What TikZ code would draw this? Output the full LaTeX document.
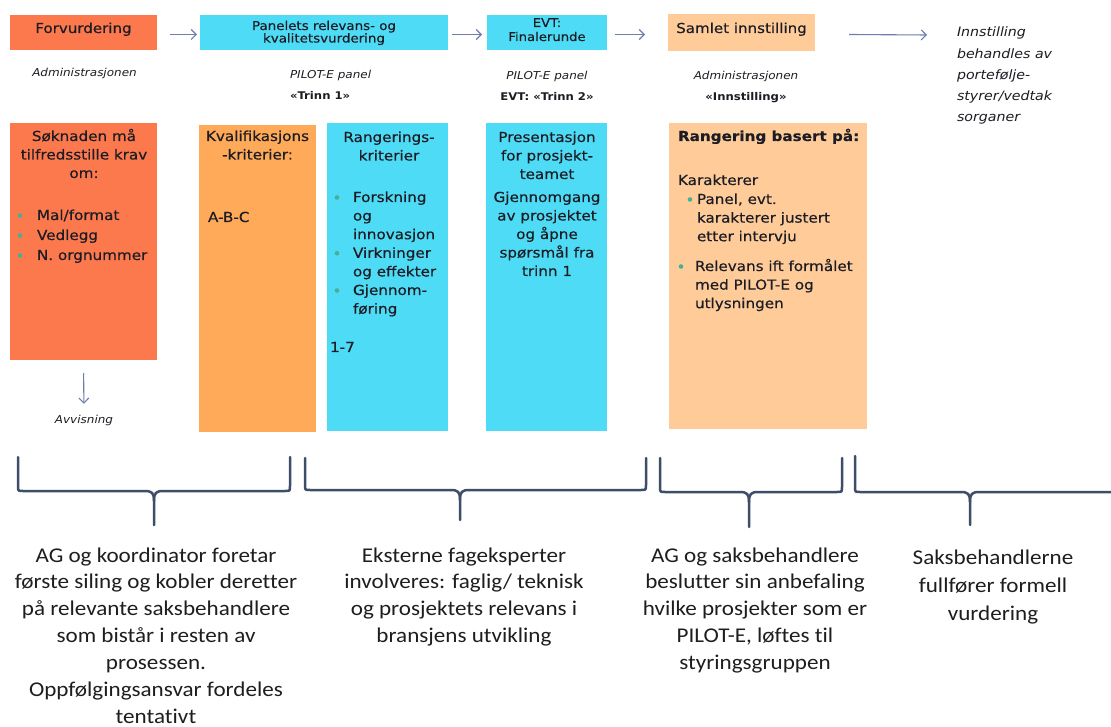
\documentclass[tikz,border=0pt]{standalone}
\usepackage{fontspec}
\setmainfont{DejaVu Sans}[FakeStretch=1.1]
\newfontfamily\boxfont{DejaVu Sans}[FakeStretch=1.1,FakeBold=0.4]
\newfontfamily\calfont{Carlito}[FakeStretch=1.1,Ligatures=NoCommon]
\usetikzlibrary{arrows.meta}
\definecolor{coral}{RGB}{252,121,78}
\definecolor{orangeB}{RGB}{255,170,88}
\definecolor{cyanB}{RGB}{78,219,245}
\definecolor{peach}{RGB}{255,204,153}
\definecolor{ink}{RGB}{28,28,36}
\definecolor{calink}{RGB}{30,30,30}
\definecolor{arrcol}{RGB}{110,125,175}
\definecolor{bracecol}{RGB}{62,78,105}
\definecolor{bulcol}{RGB}{70,175,150}
\newcommand\fsz[2]{\fontsize{#1}{#2}\selectfont}
\newcommand\brk[6]{%
  \draw[brace] (#1,#4) -- (#1,{#5-5}) .. controls (#1,#5) .. ({#1+5},#5) -- ({#3-9},#5)
     .. controls ({#3-2},#5) and (#3,{#5+2}) .. (#3,{#5+10}) -- (#3,#6);
  \draw[brace] (#2,#4) -- (#2,{#5-5}) .. controls (#2,#5) .. ({#2-5},#5) -- ({#3+9},#5)
     .. controls ({#3+2},#5) and (#3,{#5+2}) .. (#3,{#5+10});
}
\tikzset{
  box/.style={rectangle, inner sep=0pt, outer sep=0pt, draw=none, anchor=north west},
  txt/.style={inner sep=0pt, outer sep=0pt, text=ink, anchor=base},
  txtl/.style={txt, anchor=base west},
  btxt/.style={txt, font=\boxfont\fsz{13.8}{16}},
  btxtl/.style={btxt, anchor=base west},
  sub/.style={txt, font=\fsz{10.9}{12}\itshape},
  subb/.style={txt, font=\fsz{10.6}{12}\bfseries},
  arr/.style={draw=arrcol, line width=1.1pt, -{Straight Barb[length=5pt,width=10pt]}},
  brace/.style={draw=bracecol, line width=2.5pt, line cap=round, line join=round},
  cal/.style={inner sep=0pt, outer sep=0pt, text=calink, anchor=base, font=\calfont\fsz{21}{25}},
}
\begin{document}
\begin{tikzpicture}[x=1pt,y=-1pt]
\fill[white] (0,0) rectangle (1111,727);
\useasboundingbox (0,0) rectangle (1111,727);

% ---- top row boxes
\node[box, fill=coral, minimum width=147pt, minimum height=35pt] (fv) at (10,15) {};
\node[box, fill=cyanB, minimum width=248pt, minimum height=35pt] (pr) at (200,15) {};
\node[box, fill=cyanB, minimum width=120pt, minimum height=35pt] (evt) at (487,15) {};
\node[box, fill=peach, minimum width=147pt, minimum height=37pt] (si) at (668,14) {};

\node[txt, font=\boxfont\fsz{13.7}{16}] (fvt) at (83.5,33) {Forvurdering};
\node[txt, font=\boxfont\fsz{12.2}{14}] (prt1) at (324,30) {Panelets relevans- og};
\node[txt, font=\boxfont\fsz{12.2}{14}] (prt2) at (324,42.5) {kvalitetsvurdering};
\node[txt, font=\boxfont\fsz{12}{14}] (evt1) at (547,27) {EVT:};
\node[txt, font=\boxfont\fsz{12}{14}] (evt2) at (547,41) {Finalerunde};
\node[txt, font=\boxfont\fsz{13.7}{16}] (sit) at (741.5,33) {Samlet innstilling};

\coordinate (a4) at (927,35);
\draw[arr] ([xshift=13pt,yshift=-2pt]fv.east) -- ([xshift=-3pt,yshift=-2pt]pr.west);
\draw[arr] ([xshift=4pt,yshift=-2pt]pr.east) -- ([xshift=-5pt,yshift=-2pt]evt.west);
\draw[arr] ([xshift=8pt,yshift=-2pt]evt.east) -- ([xshift=-23pt,yshift=-2pt]si.west);
\draw[arr] ([xshift=34pt,yshift=-2pt]si.east) -- (a4);

\foreach \t [count=\i from 0] in {Innstilling,behandles av,portefølje-,styrer/vedtak,sorganer}
  \node[txtl, font=\fsz{12.9}{15}\itshape] (inn\i) at (957,{37+21.2*\i}) {\t};

% ---- sub labels
\node[sub] (adm1) at (84.5,77) {Administrasjonen};
\node[sub, anchor=base west] (pil1) at (290,79) {PILOT-E panel};
\node[subb, anchor=base west] (tr1) at (290,100) {«Trinn 1»};
\node[sub] (pil2) at (547,80) {PILOT-E panel};
\node[subb] (tr2) at (547,101) {EVT: «Trinn 2»};
\node[sub] (adm2) at (746,80) {Administrasjonen};
\node[subb] (inst) at (746,101) {«Innstilling»};

% ---- big boxes
\node[box, fill=coral, minimum width=147pt, minimum height=237pt] (sa) at (10,123) {};
\node[box, fill=orangeB, minimum width=117pt, minimum height=307pt] (kv) at (199,125) {};
\node[box, fill=cyanB, minimum width=121pt, minimum height=308pt] (rk) at (327,123) {};
\node[box, fill=cyanB, minimum width=121pt, minimum height=308pt] (ps) at (486,123) {};
\node[box, fill=peach, minimum width=198pt, minimum height=306pt] (rb) at (669,123) {};

% box A
\foreach \t [count=\i from 0] in {Søknaden må,tilfredsstille krav,om:}
  \node[btxt] (sah\i) at (84,{141+18.5*\i}) {\t};
\foreach \t [count=\i from 0] in {Mal/format,Vedlegg,N. orgnummer}{
  \node[btxtl] (sab\i) at (37,{220+20*\i}) {\t};
  \fill[bulcol] (20,{215.5+20*\i}) circle (2.3pt);
}
% box B
\node[btxt] (kv1) at (257.5,141) {Kvalifikasjons};
\node[btxt] (kv2) at (257.5,159.5) {-kriterier:};
\node[btxtl] (abc) at (208,222) {A-B-C};
% box C
\node[btxt] (rk1) at (389,142) {Rangerings-};
\node[btxt] (rk2) at (389,160.5) {kriterier};
\foreach \t [count=\i from 0] in {Forskning,og,innovasjon,Virkninger,og effekter,Gjennom-,føring}
  \node[btxtl] (rkb\i) at (353,{202+18.6*\i}) {\t};
\foreach \y in {202,257.8,295}
  \fill[bulcol] (337,{\y-4.5}) circle (2.3pt);
\node[btxtl] (r17) at (330,352) {1-7};
% box D
\foreach \t [count=\i from 0] in {Presentasjon,for prosjekt-,teamet}
  \node[btxt] (psa\i) at (547,{142+18.5*\i}) {\t};
\foreach \t [count=\i from 0] in {Gjennomgang,av prosjektet,og åpne,spørsmål fra,trinn 1}
  \node[btxt] (psb\i) at (547,{202+18.5*\i}) {\t};
% box E
\node[btxtl, font=\boxfont\fsz{13.8}{16}\bfseries] (rb0) at (678,141) {Rangering basert på:};
\node[btxtl] (rb1) at (678,185) {Karakterer};
\foreach \t [count=\i from 0] in {{Panel, evt.},karakterer justert,etter intervju}
  \node[btxtl] (rbp\i) at (697,{204+18.6*\i}) {\t};
\fill[bulcol] (690,199.5) circle (2.3pt);
\foreach \t [count=\i from 0] in {Relevans ift formålet,med PILOT-E og,utlysningen}
  \node[btxtl] (rbr\i) at (695,{271+18.6*\i}) {\t};
\fill[bulcol] (681,266.5) circle (2.3pt);

% avvisning
\node[sub] (av) at (84,423) {Avvisning};
\draw[arr, shorten <=13pt, shorten >=11pt] (sa.south) -- (av.north);

% ---- brackets
\brk{18}{290}{154}{457}{491}{525}
\brk{305}{646}{460}{458}{490}{520}
\brk{660}{842}{749}{458}{492}{527}
\brk{855}{1120}{970}{456}{492}{525}

% ---- bottom texts
\foreach \t [count=\i from 0] in {AG og koordinator foretar,første siling og kobler deretter,på relevante saksbehandlere,som bistår i resten av,prosessen.,Oppfølgingsansvar fordeles,tentativt}
  \node[cal] (ba\i) at (156,{562+26.9*\i}) {\t};
\foreach \t [count=\i from 0] in {Eksterne fageksperter,involveres: faglig/ teknisk,og prosjektets relevans i,bransjens utvikling}
  \node[cal] (bb\i) at (464,{562+26.9*\i}) {\t};
\foreach \t [count=\i from 0] in {AG og saksbehandlere,beslutter sin anbefaling,hvilke prosjekter som er,{PILOT-E, løftes til},styringsgruppen}
  \node[cal] (bc\i) at (755,{562+26.9*\i}) {\t};
\foreach \t [count=\i from 0] in {Saksbehandlerne,fullfører formell,vurdering}
  \node[cal] (bd\i) at (993,{564+28.3*\i}) {\t};
\end{tikzpicture}
\end{document}
